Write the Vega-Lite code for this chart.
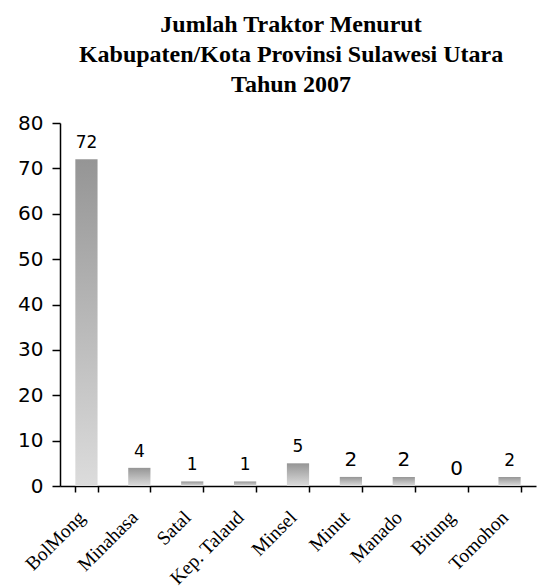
{
  "$schema": "https://vega.github.io/schema/vega-lite/v6.json",
  "autosize": {"type": "none"},
  "width": 476,
  "height": 363,
  "padding": {"left": 60, "top": 123, "right": 6, "bottom": 101},
  "background": "white",
  "title": {
    "text": ["Jumlah Traktor Menurut", "Kabupaten/Kota Provinsi Sulawesi Utara", "Tahun 2007"],
    "font": "Liberation Serif",
    "fontSize": 24,
    "fontWeight": "bold",
    "color": "black",
    "lineHeight": 30,
    "anchor": "middle",
    "frame": "group",
    "dx": -7,
    "offset": 16
  },
  "config": {"view": {"stroke": null}},
  "data": {
    "values": [
      {"kab": "BolMong", "jumlah": 72},
      {"kab": "Minahasa", "jumlah": 4},
      {"kab": "Satal", "jumlah": 1},
      {"kab": "Kep. Talaud", "jumlah": 1},
      {"kab": "Minsel", "jumlah": 5},
      {"kab": "Minut", "jumlah": 2},
      {"kab": "Manado", "jumlah": 2},
      {"kab": "Bitung", "jumlah": 0},
      {"kab": "Tomohon", "jumlah": 2}
    ]
  },
  "encoding": {
    "x": {
      "field": "kab",
      "type": "nominal",
      "sort": null,
      "scale": {"paddingInner": 0.58, "paddingOuter": 0.29},
      "axis": {
        "title": null,
        "labelAngle": -45,
        "labelAlign": "right",
        "labelBaseline": "middle",
        "labelFont": "Liberation Serif",
        "labelFontSize": 19.5,
        "labelColor": "black",
        "labelPadding": 22,
        "labelOffset": -5,
        "tickBand": "extent",
        "tickSize": 6,
        "tickColor": "black",
        "tickWidth": 1.5,
        "domainColor": "black",
        "domainWidth": 1.5
      }
    },
    "y": {
      "field": "jumlah",
      "type": "quantitative",
      "scale": {"domain": [0, 80]},
      "axis": {
        "title": null,
        "values": [0, 10, 20, 30, 40, 50, 60, 70, 80],
        "grid": false,
        "labelFont": "DejaVu Sans",
        "labelFontSize": 20,
        "labelColor": "black",
        "labelPadding": 9,
        "tickSize": 8,
        "tickColor": "black",
        "tickWidth": 1.5,
        "domainColor": "black",
        "domainWidth": 1.5
      }
    }
  },
  "layer": [
    {
      "mark": {
        "type": "bar",
        "color": {
          "gradient": "linear",
          "x1": 0, "y1": 0, "x2": 0, "y2": 1,
          "stops": [
            {"offset": 0, "color": "#959595"},
            {"offset": 1, "color": "#dcdcdc"}
          ]
        }
      }
    },
    {
      "mark": {"type": "text", "baseline": "alphabetic", "dy": -11, "font": "DejaVu Sans", "color": "black"},
      "encoding": {
        "text": {"field": "jumlah", "type": "quantitative"},
        "size": {
          "condition": {"test": "indexof(['Minut','Manado','Bitung'], datum.kab) >= 0", "value": 20},
          "value": 17
        }
      }
    }
  ]
}
